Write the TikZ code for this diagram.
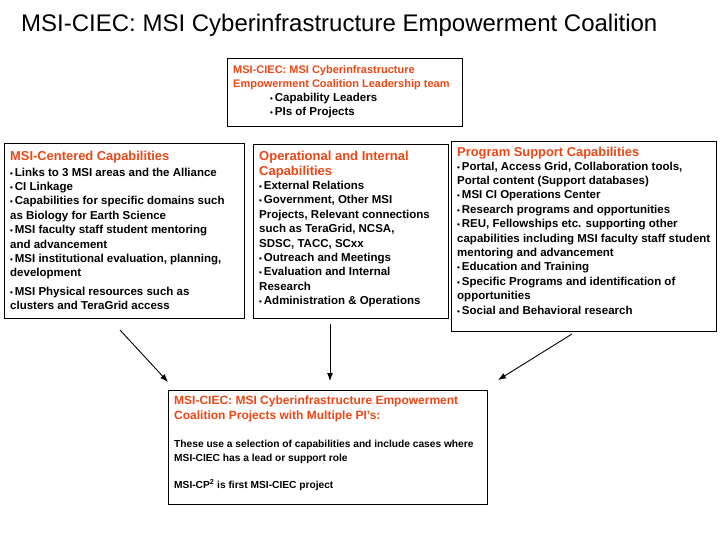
\documentclass[tikz,border=0pt]{standalone}
\usepackage{fontspec}
\setmainfont{Liberation Sans}
\usetikzlibrary{arrows.meta}
\definecolor{hd}{RGB}{232,72,22}
\begin{document}
\begin{tikzpicture}[x=1pt,y=-1pt,
  box/.style={draw,line width=0.8pt,inner sep=0pt,anchor=north west},
  txt/.style={anchor=north west,align=left,inner sep=0pt,font=\bfseries\fontsize{11.5}{14.4}\selectfont},
  hdr/.style={anchor=north west,align=left,inner sep=0pt,text=hd,font=\bfseries\fontsize{12.9}{14.6}\selectfont},
  arr/.style={-{Latex[length=8pt,width=6pt]},line width=0.9pt}]
\useasboundingbox (0,0) rectangle (720,540);
\newcommand{\bu}{{\fontsize{8}{8}\selectfont•}\,}
\node[anchor=west,inner sep=0pt,font=\fontsize{24}{26}\selectfont] (title) at (21,25) {MSI-CIEC: MSI Cyberinfrastructure Empowerment Coalition};

\node[box,minimum width=235pt,minimum height=68pt] (T) at (227,58) {};
\node[hdr,font=\bfseries\fontsize{11}{14.3}\selectfont] (Th) at (233,65) {MSI-CIEC: MSI Cyberinfrastructure\\Empowerment Coalition Leadership team};
\node[txt] (Tt) at (270,92.5) {\bu Capability Leaders\\\bu PIs of Projects};

\node[box,minimum width=240pt,minimum height=175pt] (L) at (4,143) {};
\node[hdr] (Lh) at (10,151) {MSI-Centered Capabilities};
\node[txt] (Lt) at (10,167.5) {\bu Links to 3 MSI areas and the Alliance\\\bu CI Linkage\\\bu Capabilities for specific domains such\\as Biology for Earth Science\\\bu MSI faculty staff student mentoring\\and advancement\\\bu MSI institutional evaluation, planning,\\development\\[4pt]\bu MSI Physical resources such as\\clusters and TeraGrid access};

\node[box,minimum width=195pt,minimum height=174pt] (M) at (253,144) {};
\node[hdr,font=\bfseries\fontsize{13}{15}\selectfont] (Mh) at (259,151) {Operational and Internal\\Capabilities};
\node[txt] (Mt) at (259,181) {\bu External Relations\\\bu Government, Other MSI\\Projects, Relevant connections\\such as TeraGrid, NCSA,\\SDSC, TACC, SCxx\\\bu Outreach and Meetings\\\bu Evaluation and Internal\\Research\\\bu Administration \& Operations};

\node[box,minimum width=265pt,minimum height=190pt] (R) at (451,141) {};
\node[hdr] (Rh) at (457,147) {Program Support Capabilities};
\node[txt] (Rt) at (457,161.5) {\bu Portal, Access Grid, Collaboration tools,\\Portal content (Support databases)\\\bu MSI CI Operations Center\\\bu Research programs and opportunities\\\bu REU, Fellowships etc. supporting other\\capabilities including MSI faculty staff student\\mentoring and advancement\\\bu Education and Training\\\bu Specific Programs and identification of\\opportunities\\\bu Social and Behavioral research};

\node[box,minimum width=319pt,minimum height=114pt] (B) at (168,390) {};
\node[hdr,font=\bfseries\fontsize{12}{14.2}\selectfont] (Bh) at (174,396) {MSI-CIEC: MSI Cyberinfrastructure Empowerment\\Coalition Projects with Multiple PI's:};
\node[txt,font=\bfseries\fontsize{10.2}{14}\selectfont] (Bt) at (174,440) {These use a selection of capabilities and include cases where\\MSI-CIEC has a lead or support role\\[13pt]MSI-CP\textsuperscript{2} is first MSI-CIEC project};

\coordinate (a1) at (120,330); \coordinate (a2) at (168,382);
\coordinate (b1) at (330,324); \coordinate (b2) at (330,381);
\coordinate (c1) at (572,334); \coordinate (c2) at (498,380);
\draw[arr] (a1) -- (a2);
\draw[arr] (b1) -- (b2);
\draw[arr] (c1) -- (c2);
\end{tikzpicture}
\end{document}
